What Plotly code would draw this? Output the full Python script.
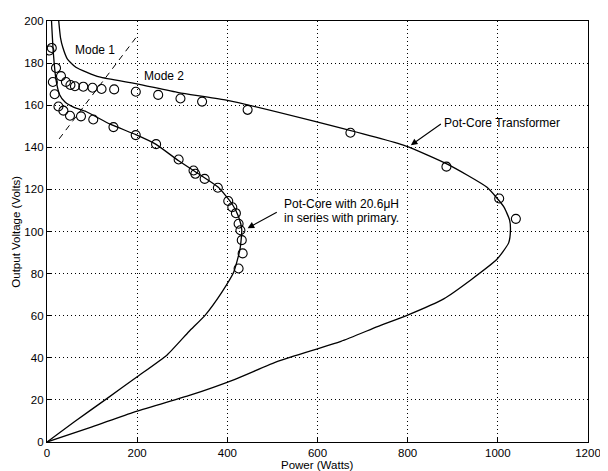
import plotly.graph_objects as go

# Solid curve: Pot-Core Transformer (power W, voltage V)
outer_p = [26, 30, 35, 45, 64, 116, 197, 292, 395, 592, 795, 888, 976, 1013, 1026, 1028, 1024, 998, 940, 880, 800, 733, 652, 513, 417, 314, 193, 100, 0]
outer_v = [200, 192, 187.5, 182, 178, 173.4, 170.3, 166, 162.5, 152.4, 140.7, 132, 121, 111.8, 105.5, 100.8, 94.6, 86.8, 77, 68, 60.3, 54.8, 47.8, 38.4, 29.8, 22, 14.2, 7.2, 0]

# Solid curve: Pot-Core with 20.6uH in series with primary
inner_p = [10, 14, 20, 28, 40, 60, 86.5, 140, 197, 241, 292, 336, 380, 410, 425, 432, 428, 414, 388, 351, 315, 267, 200, 132, 60, 0]
inner_v = [200, 185, 172, 165, 161.5, 159, 157, 151, 146, 141.5, 133.6, 127.4, 121, 113.3, 107, 100.8, 91.5, 80.6, 71.2, 60.3, 52.5, 41.5, 31, 20.5, 9.5, 0]

# Measured points (open circles)
meas_outer_p = [5.5, 10.6, 20, 31, 42, 52, 62, 80.5, 101, 121, 149, 197, 246.6, 296, 344, 445, 673, 886, 1003, 1040]
meas_outer_v = [186, 187.2, 177.7, 173.8, 171, 169.6, 169, 168.8, 168.3, 167.7, 167.5, 166.4, 164.9, 163.2, 161.7, 157.8, 146.9, 130.8, 115.7, 106]
meas_inner_p = [13, 17, 25.4, 36.4, 51, 75.4, 102.6, 147.4, 196.8, 242, 292, 325, 329, 349.7, 379, 402, 411, 419, 425, 429, 432, 434, 425]
meas_inner_v = [171, 165.2, 159.4, 157.4, 155, 154.7, 153.2, 149.6, 145.8, 141.5, 134.2, 129, 127.4, 125, 120.8, 114.5, 111.5, 108.7, 103.7, 100.6, 95.9, 89.6, 82.4]

# Mode boundary (dashed)
mode_p = [27, 197]
mode_v = [144, 192]

x_ticks = [0, 200, 400, 600, 800, 1000, 1200]
y_ticks = [0, 20, 40, 60, 80, 100, 120, 140, 160, 180, 200]

fig = go.Figure()
line_style = dict(color="black", width=1.3)
fig.add_trace(go.Scatter(x=outer_p, y=outer_v, mode="lines", line=dict(shape="spline", smoothing=0.5, **line_style)))
fig.add_trace(go.Scatter(x=inner_p, y=inner_v, mode="lines", line=dict(shape="spline", smoothing=0.5, **line_style)))
fig.add_trace(go.Scatter(x=mode_p, y=mode_v, mode="lines", line=dict(color="black", width=1, dash="6px,5px")))
marker_style = dict(symbol="circle-open", size=9, color="black", line=dict(width=1.1, color="black"))
fig.add_trace(go.Scatter(x=meas_outer_p, y=meas_outer_v, mode="markers", marker=marker_style))
fig.add_trace(go.Scatter(x=meas_inner_p, y=meas_inner_v, mode="markers", marker=marker_style))

font_family = "Liberation Sans, Arial, sans-serif"
axis_common = dict(
    showline=True, mirror=True, linecolor="black", linewidth=1.3,
    ticks="inside", ticklen=5, tickcolor="black",
    showgrid=True, gridcolor="black", griddash="1px,3px", gridwidth=1,
    zeroline=False, tickfont=dict(family=font_family, size=11.5, color="black"),
)
fig.update_layout(
    width=600, height=463, autosize=False,
    margin=dict(l=39, r=17, t=7, b=29),
    paper_bgcolor="white", plot_bgcolor="white",
    showlegend=False,
    font=dict(family=font_family, color="black"),
    xaxis=dict(range=[0, 1200], tickvals=x_ticks, **axis_common),
    yaxis=dict(range=[0, 200], tickvals=y_ticks, **axis_common),
)

ann_font = dict(family=font_family, size=12, color="black")
fig.add_annotation(x=0.5, y=-0.054, xref="paper", yref="paper", text="Power (Watts)", showarrow=False,
                   font=dict(family=font_family, size=11.5, color="black"), xanchor="center", yanchor="middle")
fig.add_annotation(x=-0.0588, y=0.5, xref="paper", yref="paper", text="Output Voltage (Volts)", showarrow=False,
                   font=dict(family=font_family, size=11.5, color="black"), textangle=-90,
                   xanchor="center", yanchor="middle")
fig.add_annotation(x=57, y=186.4, text="Mode 1", showarrow=False, font=ann_font, xanchor="left", yanchor="middle")
fig.add_annotation(x=210, y=174, text="Mode 2", showarrow=False, font=ann_font, xanchor="left", yanchor="middle")
fig.add_annotation(x=807, y=141, ax=877, ay=151.6, axref="x", ayref="y", text="", showarrow=True,
                   arrowhead=2, arrowsize=1.2, arrowwidth=1.1, arrowcolor="black")
fig.add_annotation(x=877, y=151.6, text="Pot-Core Transformer", showarrow=False, font=ann_font,
                   xanchor="left", yanchor="middle")
fig.add_annotation(x=445, y=101.6, ax=513, ay=109.5, axref="x", ayref="y", text="", showarrow=True,
                   arrowhead=2, arrowsize=1.2, arrowwidth=1.1, arrowcolor="black")
fig.add_annotation(x=522, y=113.3, text="Pot-Core with 20.6μH", showarrow=False, font=ann_font,
                   xanchor="left", yanchor="middle")
fig.add_annotation(x=522, y=106.3, text="in series with primary.", showarrow=False, font=ann_font,
                   xanchor="left", yanchor="middle")

fig.write_html("out.html")
